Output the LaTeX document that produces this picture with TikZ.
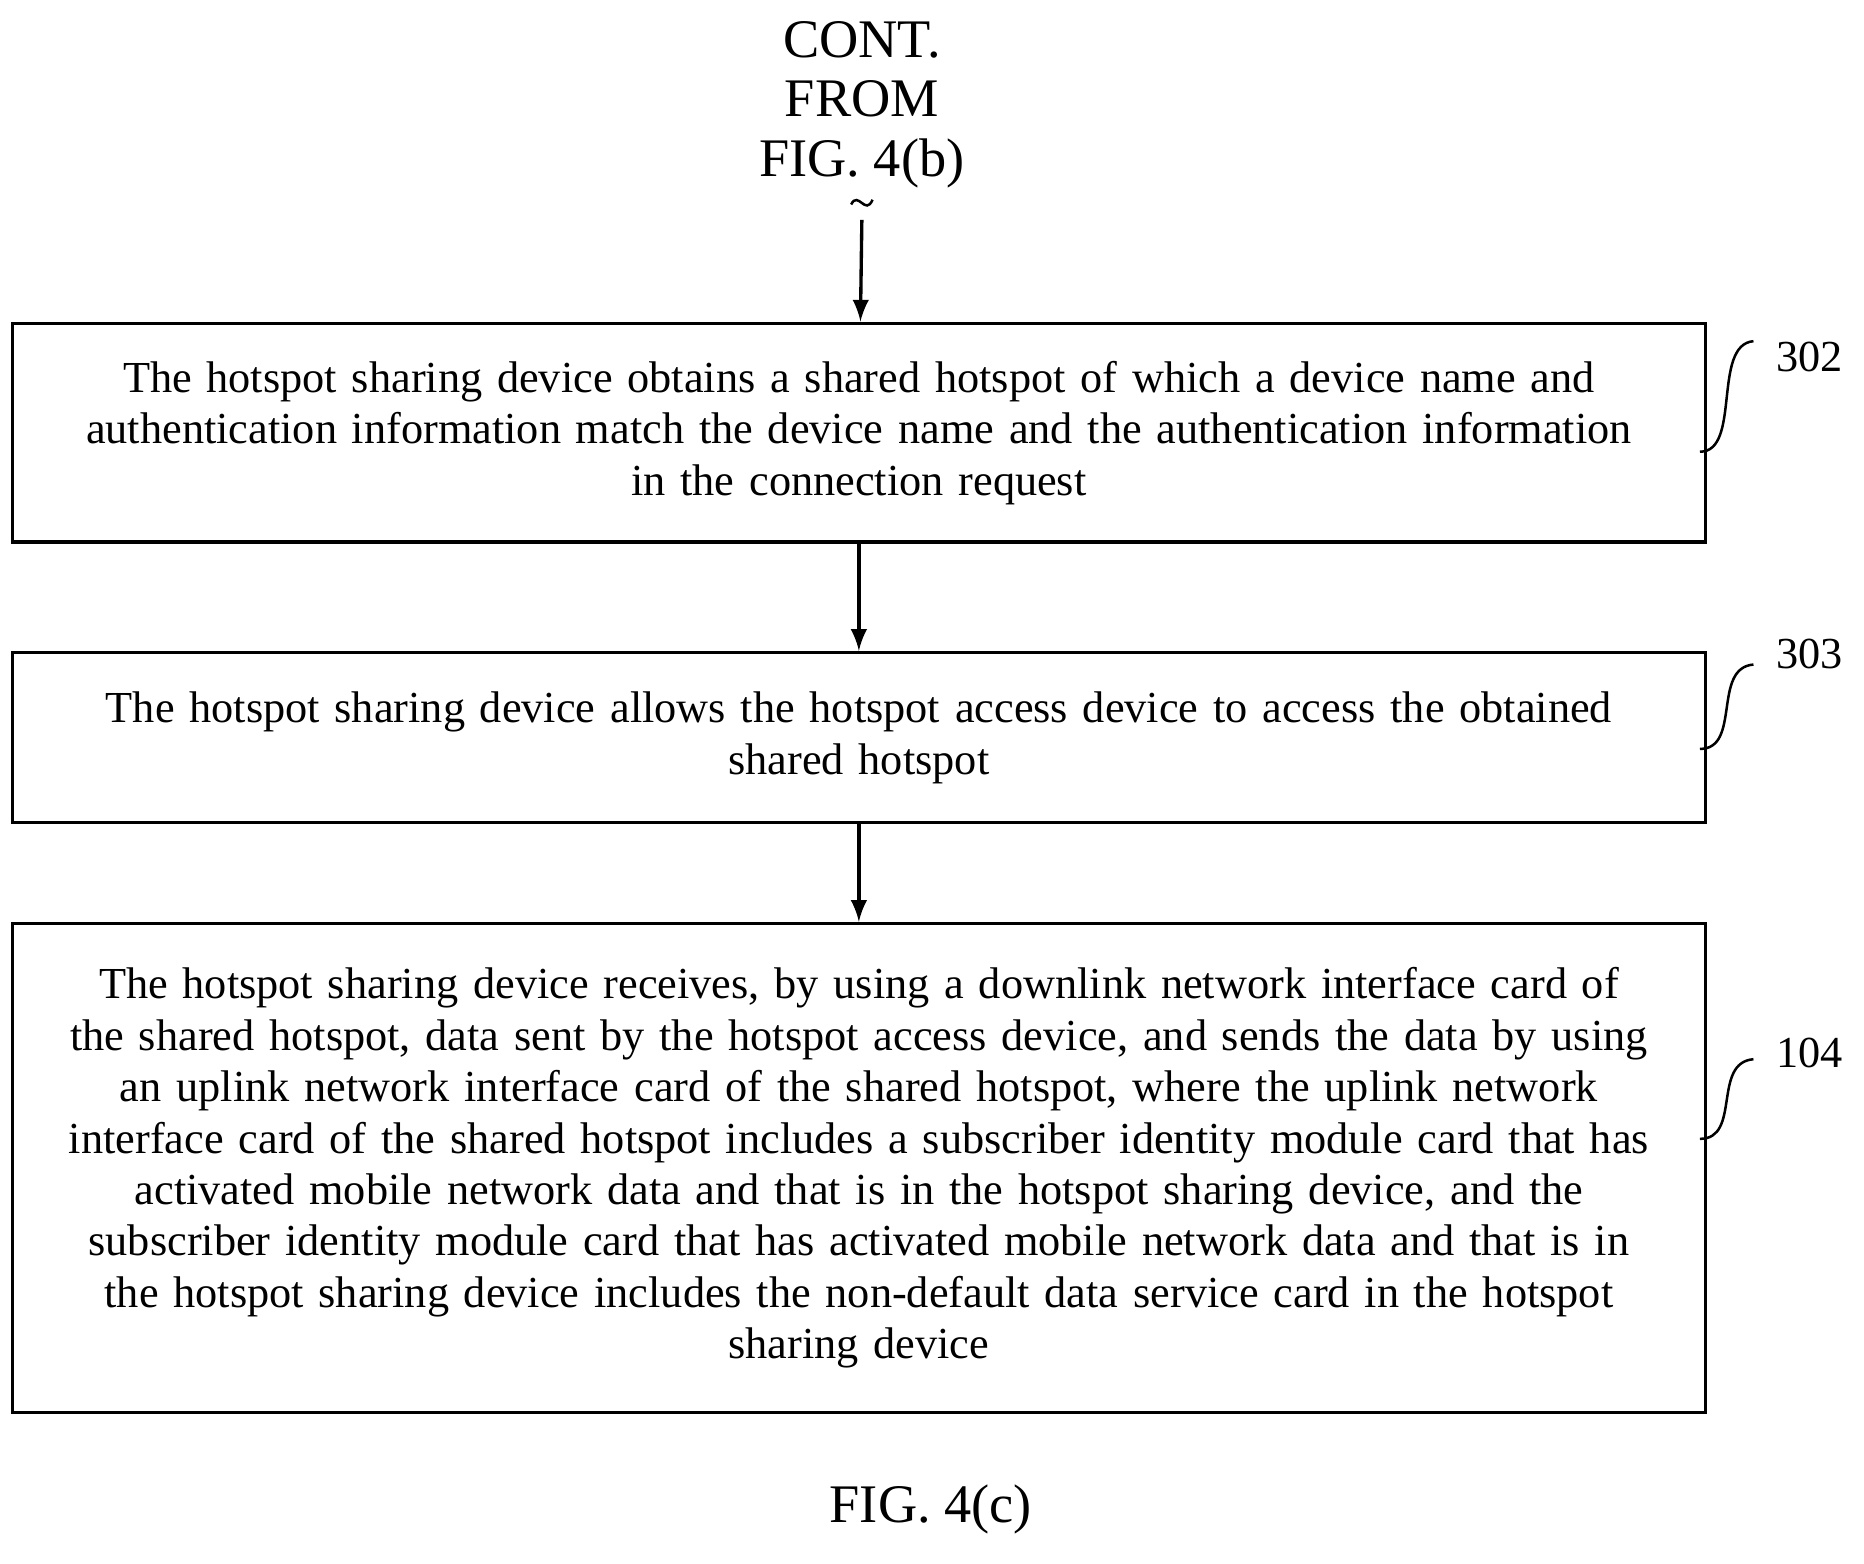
\documentclass[tikz,border=0pt]{standalone}
\usepackage{fontspec}
\setmainfont{Liberation Serif}
\usetikzlibrary{positioning}
\begin{document}
\begin{tikzpicture}[x=0.01cm,y=-0.01cm,
  stepbox/.style={draw,line width=0.8pt,minimum width=14.09cm,text width=14cm,align=center,
    font=\fontsize{10.6pt}{12.3pt}\selectfont},
  tag/.style={font=\fontsize{10.6pt}{12pt}\selectfont,anchor=west},
  flow/.style={-latex,line width=0.8pt}]
\useasboundingbox (0,0) rectangle (1568,1315);
% continuation
\node[align=center,font=\fontsize{13pt}{14.2pt}\selectfont] (cont) at (725,88) {CONT.\\FROM\\FIG. 4(b)};
\coordinate (s) at (725,185);
\draw[line width=0.6pt] (716,172) .. controls (722,160) and (728,182) .. (734,168);
\node[stepbox,minimum height=1.84cm] (b1) at (722.5,364) {The hotspot sharing device obtains a shared hotspot of which a device name and\\ authentication information match the device name and the authentication information\\ in the connection request};
\node[stepbox,minimum height=1.43cm] (b2) at (722.5,620.5) {The hotspot sharing device allows the hotspot access device to access the obtained\\ shared hotspot};
\node[stepbox,minimum height=4.11cm] (b3) at (722.5,982.5) {The hotspot sharing device receives, by using a downlink network interface card of\\ the shared hotspot, data sent by the hotspot access device, and sends the data by using\\ an uplink network interface card of the shared hotspot, where the uplink network\\ interface card of the shared hotspot includes a subscriber identity module card that has\\ activated mobile network data and that is in the hotspot sharing device, and the\\ subscriber identity module card that has activated mobile network data and that is in\\ the hotspot sharing device includes the non-default data service card in the hotspot\\ sharing device};
\draw[flow] (s) -- (b1);
\draw[flow] (b1) -- (b2);
\draw[flow] (b2) -- (b3);
% step labels
\node[tag] (t302) at (1482,300) {302};
\node[tag] (t303) at (1482,550) {303};
\node[tag] (t104) at (1482,886) {104};
\draw[line width=0.6pt] (1430,380) .. controls (1465,380) and (1440,290) .. (1475,287);
\draw[line width=0.6pt] (1430,630) .. controls (1465,630) and (1440,562) .. (1475,559);
\draw[line width=0.6pt] (1430,958) .. controls (1465,958) and (1440,894) .. (1475,891);
\node[font=\fontsize{13pt}{14pt}\selectfont] (fig) at (783,1270) {FIG. 4(c)};
\end{tikzpicture}
\end{document}
